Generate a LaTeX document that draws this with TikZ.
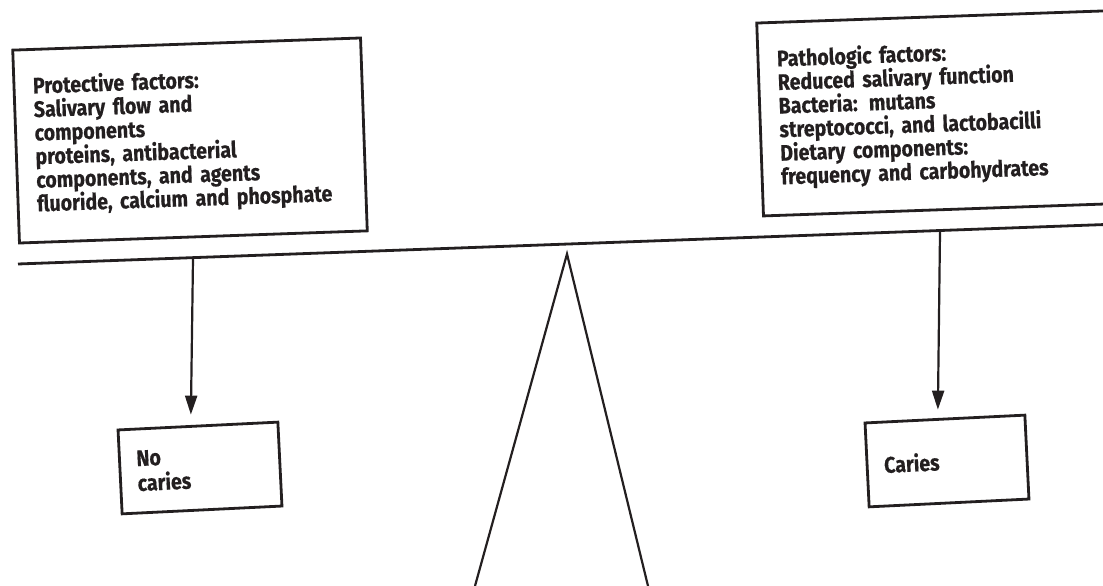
\documentclass[tikz,border=0pt]{standalone}
\usepackage{fontspec}
\setmainfont{Fira Sans}
\newfontfamily\boxfont{Fira Sans}[FakeStretch=0.87, FakeBold=0.5]
\usepackage{xcolor}
\usepackage{tikz}
\usetikzlibrary{
    positioning,
    arrows.meta,
    calc,
}
\setlength{\lineskiplimit}{-50pt}
\definecolor{ink}{RGB}{35,31,32}
\tikzset{
    % Box styles
    factor box/.style={rectangle, draw=ink, line width=2.8pt, rotate=2,
                       minimum width=348pt, minimum height=193pt,
                       inner xsep=19pt, text width=310pt, align=left,
                       font=\boxfont\bfseries\fontsize{22.5}{23.6}\selectfont,
                       text=ink},
    result box/.style={rectangle, draw=ink, line width=2.8pt, rotate=2.8,
                       minimum width=160pt, minimum height=84pt,
                       inner xsep=17pt, text width=126pt, align=left,
                       font=\boxfont\bfseries\fontsize{22.5}{25}\selectfont,
                       text=ink},
    % Line styles
    beam/.style={draw=ink, line width=2.8pt},
    arrow/.style={-{Triangle[length=19pt, width=12pt]}, draw=ink, line width=2.2pt},
}

\begin{document}
\begin{tikzpicture}[x=1pt, y=1pt]
    \useasboundingbox (0,0) rectangle (1103,586);

    % Factors
    \node[factor box] (protective) at (190,445.5) {%
        Protective factors:\\
        Salivary flow and\\
        components\\
        proteins, antibacterial\\
        components, and agents\\
        fluoride, calcium and phosphate};
    \node[factor box, minimum width=372pt, text width=334pt] (pathologic) at (946,473) {%
        Pathologic factors:\\
        Reduced salivary function\\
        Bacteria: mutans\\
        streptococci, and lactobacilli\\
        Dietary components:\\
        frequency and carbohydrates};

    % Balance
    \coordinate (beamL) at (18,322);
    \coordinate (beamR) at (1103,361.4);
    \draw[beam] (beamL) -- (beamR);
    \draw[ink, line width=2.2pt, line join=miter] (475,0) -- (567,332) -- (648,0);

    % Outcomes
    \node[result box] (nocaries) at (200,118) {No\\caries};
    \node[result box] (caries) at (947,125) {Caries};

    % Arrows
    \coordinate (lefthang) at ($(beamL)!0.1613!(beamR)$);
    \coordinate (righthang) at ($(beamL)!0.8498!(beamR)$);
    \draw[arrow] (lefthang) -- ([xshift=-7pt, yshift=10pt]nocaries.north);
    \draw[arrow] (righthang) -- ([xshift=-7pt, yshift=8pt]caries.north);
\end{tikzpicture}
\end{document}
